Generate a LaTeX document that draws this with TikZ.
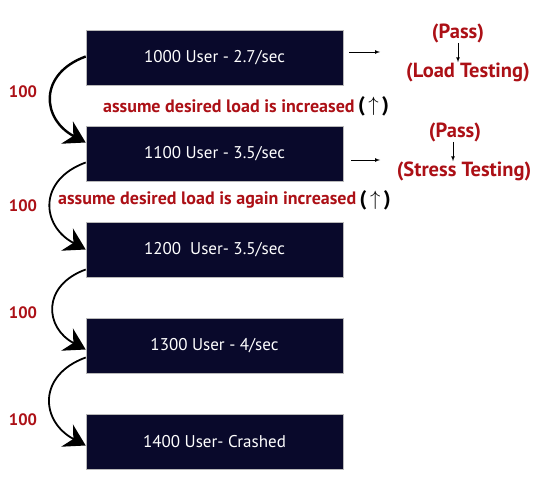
\documentclass[tikz,border=0pt]{standalone}
\usepackage{fontspec}
\setmainfont{PT Sans}
\usetikzlibrary{shapes,arrows,arrows.meta}
\usetikzlibrary{calc,positioning}
\definecolor{boxblue}{RGB}{9,9,43}
\definecolor{darkred}{RGB}{172,16,22}

\begin{document}
\begin{tikzpicture}[x=1pt,y=1pt,
	loadbox/.style={draw=gray!55, line width=0.6pt, fill=boxblue, text=white, inner sep=0pt,
		minimum width=257pt, minimum height=55pt, font=\fontsize{17}{20}\selectfont},
	note/.style={text=darkred, inner sep=0pt, font=\bfseries\fontsize{18}{21}\selectfont},
	count/.style={text=darkred, inner sep=0pt, font=\bfseries\fontsize{16.5}{20}\selectfont},
	result/.style={text=darkred, inner sep=0pt, font=\bfseries\fontsize{20.5}{24}\selectfont},
	upmark/.style={inner sep=0pt, font=\bfseries\fontsize{21}{22}\selectfont},
	stepflow/.style={-{Stealth[length=21pt,width=25pt,inset=7pt]}, line width=1.8pt},
	pointer/.style={-latex, line width=0.7pt}]
	\useasboundingbox (0,0) rectangle (544,-500);
	
	\def\cx{214.5} % center of the boxes
	
	% the five load levels
	\node[loadbox] (b1) at (\cx,-57.5) {1000 User - 2.7/sec};
	\node[loadbox] (b2) at (\cx,-153.5) {1100 User - 3.5/sec};
	\node[loadbox] (b3) at (\cx,-249.5) {1200\ \ User- 3.5/sec};
	\node[loadbox] (b4) at (\cx,-345.5) {1300 User - 4/sec};
	\node[loadbox] (b5) at (\cx,-441.5) {1400 User- Crashed};
	
	% steps of 100
	\node[count] (s1) at (23,-92) {100};
	\node[count] (s2) at (23,-206) {100};
	\node[count] (s3) at (23,-313) {100};
	\node[count] (s4) at (23,-420) {100};
	
	% curved arrows between the levels
	\draw[stepflow, line width=2.4pt] ([yshift=1pt]b1.west) to[out=200,in=152,looseness=1.5] ([yshift=11pt]b2.west);
	\draw[stepflow] ([yshift=-9pt]b2.west) to[out=200,in=152,looseness=1.5] (b3.west);
	\draw[stepflow] ([yshift=-20pt]b3.west) to[out=200,in=152,looseness=1.5] ([yshift=-4pt]b4.west);
	\draw[stepflow] ([yshift=-12pt]b4.west) to[out=200,in=152,looseness=1.5] ([yshift=-4pt]b5.west);
	
	% assumptions
	\node[note, anchor=west] (inc1) at (103,-106) {assume desired load is increased};
	\node[upmark, right=3pt of inc1] (up1) {(\,$\uparrow$\,)};
	\node[note, anchor=west] (inc2) at (58,-200) {assume desired load is again increased};
	\node[upmark, right=3pt of inc2] (up2) {(\,$\uparrow$\,)};
	
	% results on the right
	\node[result] (pass1) at (458,-33) {(Pass)};
	\node[result] (load) at (468,-72) {(Load Testing)};
	\node[result] (pass2) at (455,-132) {(Pass)};
	\node[result] (stress) at (464,-171) {(Stress Testing)};
	\draw[pointer] (pass1.south -| 458,0) -- (load.north -| 458,0);
	\draw[pointer] (pass2.south -| 453,0) -- (stress.north -| 453,0);
	
	\coordinate (e1) at (380,-52);
	\coordinate (e2) at (380,-160);
	\draw[pointer] ([xshift=6pt,yshift=5.5pt]b1.east) -- (e1);
	\draw[pointer] ([xshift=8pt,yshift=-6.5pt]b2.east) -- (e2);
\end{tikzpicture}
\end{document}
